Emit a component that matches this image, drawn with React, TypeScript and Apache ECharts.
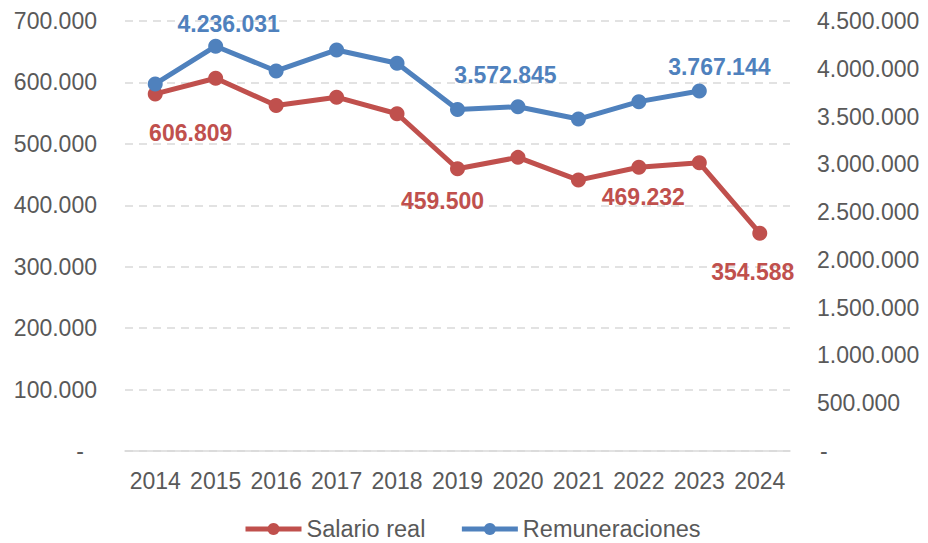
import React, { useEffect, useRef } from "react";
import * as echarts from "echarts";

const years = ["2014", "2015", "2016", "2017", "2018", "2019", "2020", "2021", "2022", "2023", "2024"];
const salarioReal = [581300, 606809, 562300, 576000, 549000, 459500, 478000, 441000, 462000, 469232, 354588];
const remuneraciones = [3841000, 4236031, 3977000, 4197000, 4058000, 3572845, 3603000, 3474000, 3656000, 3767144, null];

// label placements (index -> offset from point centre), styling only
const redLabels: Record<number, [number, number]> = { 1: [-25, 55], 5: [-15, 32], 9: [-56, 34], 10: [-7, 39] };
const blueLabels: Record<number, [number, number]> = { 1: [13, -22], 5: [48, -35], 9: [20, -24] };

const RED = "#C0504D";
const BLUE = "#4F81BD";
const TXT = "#595959";
const FONT = "Liberation Sans, Arial, sans-serif";
const FS = 23;

const fmt = (v: number) => String(Math.round(v)).replace(/\B(?=(\d{3})+(?!\d))/g, ".");

function buildData(values: (number | null)[], labels: Record<number, [number, number]>, color: string) {
  return values.map((v, i) => {
    const off = labels[i];
    if (!off || v == null) return v;
    return {
      value: v,
      label: {
        show: true,
        position: "inside",
        offset: off,
        color,
        fontWeight: "bold",
        fontSize: FS,
        fontFamily: FONT,
        formatter: (p: any) => fmt(p.value),
      },
    };
  });
}

export default function App() {
  const ref = useRef<HTMLDivElement>(null);
  useEffect(() => {
    if (!ref.current) return;
    const chart = echarts.init(ref.current, null, { renderer: "svg" });
    chart.setOption({
      animation: false,
      backgroundColor: "#ffffff",
      textStyle: { fontFamily: FONT },
      grid: { left: 125, right: 138, top: 21, bottom: 92, containLabel: false },
      legend: {
        left: 243,
        top: 517,
        padding: 0,
        itemWidth: 56,
        itemHeight: 15,
        itemGap: 34,
        lineStyle: { width: 5 },
        textStyle: { color: TXT, fontSize: 23.5, fontFamily: FONT },
        data: ["Salario real", "Remuneraciones"],
      },
      xAxis: {
        type: "category",
        data: years,
        boundaryGap: true,
        axisLine: { show: true, lineStyle: { color: "#D9D9D9", width: 1.5 } },
        axisTick: { show: false },
        axisLabel: { color: TXT, fontSize: FS, fontFamily: FONT, margin: 18, interval: 0 },
      },
      yAxis: [
        {
          type: "value",
          min: 0,
          max: 700000,
          interval: 100000,
          axisLine: { show: false },
          axisTick: { show: false },
          splitLine: { show: true, lineStyle: { color: "#D9D9D9", type: [8, 6], width: 1.5 } },
          axisLabel: {
            color: TXT,
            fontSize: FS,
            fontFamily: FONT,
            margin: 28,
            formatter: (v: number) => (v === 0 ? "{z|-}" : fmt(v)),
            rich: { z: { color: TXT, fontSize: FS, fontFamily: FONT, padding: [0, 13, 0, 0] } },
          },
        },
        {
          type: "value",
          min: 0,
          max: 4500000,
          interval: 500000,
          position: "right",
          axisLine: { show: false },
          axisTick: { show: false },
          splitLine: { show: false },
          axisLabel: {
            color: TXT,
            fontSize: FS,
            fontFamily: FONT,
            margin: 27,
            formatter: (v: number) => (v === 0 ? "{z|-}" : fmt(v)),
            rich: { z: { color: TXT, fontSize: FS, fontFamily: FONT, padding: [0, 0, 0, 3] } },
          },
        },
      ],
      series: [
        {
          name: "Salario real",
          type: "line",
          yAxisIndex: 0,
          data: buildData(salarioReal, redLabels, RED),
          symbol: "circle",
          symbolSize: 15,
          lineStyle: { color: RED, width: 5 },
          itemStyle: { color: RED },
          label: { show: false },
          z: 2,
        },
        {
          name: "Remuneraciones",
          type: "line",
          yAxisIndex: 1,
          data: buildData(remuneraciones, blueLabels, BLUE),
          symbol: "circle",
          symbolSize: 15,
          lineStyle: { color: BLUE, width: 5 },
          itemStyle: { color: BLUE },
          label: { show: false },
          z: 3,
        },
      ],
    });
    return () => chart.dispose();
  }, []);
  return <div ref={ref} style={{ position: "fixed", left: 0, top: 0, width: 928, height: 543 }} />;
}
